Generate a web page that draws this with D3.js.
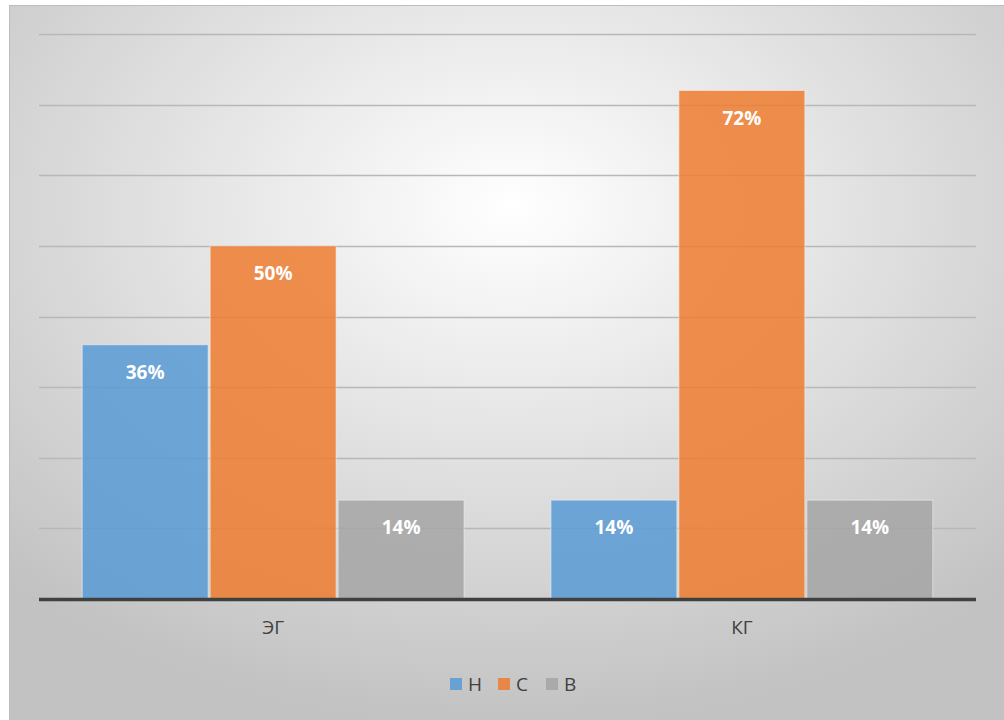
<!DOCTYPE html>
<html>
<head>
<meta charset="utf-8">
<script src="https://cdn.jsdelivr.net/npm/d3@7"></script>
<style>
  body { margin: 0; background: #fff; }
  svg { display: block; font-family: "Open Sans", "Liberation Sans", sans-serif; }
</style>
</head>
<body>
<svg></svg>
<script>
const WIDTH = 1004;
const HEIGHT = 720;

const categories = ["ЭГ", "КГ"];
const seriesNames = ["Н", "С", "В"];
const seriesColors = ["#5b9bd5", "#ed7d31", "#a5a5a5"];
const valuesH = [36, 14];
const valuesC = [50, 72];
const valuesB = [14, 14];
const yTicks = [0, 10, 20, 30, 40, 50, 60, 70, 80];

const series = [valuesH, valuesC, valuesB];

const plot = { left: 39, right: 976, top: 34, bottom: 599 };

const $svg = d3.select("svg").attr("width", WIDTH).attr("height", HEIGHT);

// radial background
const defs = $svg.append("defs");
const grad = defs.append("radialGradient")
  .attr("id", "bg")
  .attr("cx", "50%").attr("cy", "28%").attr("r", "72%");
grad.append("stop").attr("offset", "0%").attr("stop-color", "#ffffff");
grad.append("stop").attr("offset", "100%").attr("stop-color", "#c2c2c2");

$svg.append("rect")
  .attr("x", 9.5).attr("y", 5.5)
  .attr("width", WIDTH).attr("height", HEIGHT)
  .attr("fill", "url(#bg)")
  .attr("stroke", "#bdbdbd")
  .attr("stroke-width", 1);

const x0 = d3.scaleBand()
  .domain(categories)
  .range([plot.left, plot.right])
  .paddingInner(0.181)
  .paddingOuter(0.09);

const x1 = d3.scaleBand()
  .domain(seriesNames)
  .range([0, x0.bandwidth()])
  .padding(0.0);

const y = d3.scaleLinear()
  .domain([0, 80])
  .range([plot.bottom, plot.top]);

// gridlines
$svg.append("g")
  .selectAll("line")
  .data(yTicks.slice(1))
  .join("line")
  .attr("x1", plot.left).attr("x2", plot.right)
  .attr("y1", d => Math.round(y(d)) + 0.5)
  .attr("y2", d => Math.round(y(d)) + 0.5)
  .attr("stroke", "#b8b8b8")
  .attr("stroke-width", 1.5);

// bars
const groups = $svg.append("g")
  .selectAll("g")
  .data(categories)
  .join("g")
  .attr("transform", c => `translate(${x0(c)},0)`);

groups.selectAll("rect")
  .data((c, ci) => seriesNames.map((s, si) => ({ s, si, v: series[si][ci] })))
  .join("rect")
  .attr("x", d => x1(d.s) + 1)
  .attr("width", x1.bandwidth() - 2)
  .attr("y", d => y(d.v))
  .attr("height", d => y(0) - y(d.v))
  .attr("fill", d => seriesColors[d.si])
  .attr("fill-opacity", 0.86)
  .attr("stroke", "#f2f2f2")
  .attr("stroke-opacity", 0.6)
  .attr("stroke-width", 1);

groups.selectAll("text")
  .data((c, ci) => seriesNames.map((s, si) => ({ s, si, v: series[si][ci] })))
  .join("text")
  .attr("x", d => x1(d.s) + x1.bandwidth() / 2)
  .attr("y", d => y(d.v) + 34)
  .attr("text-anchor", "middle")
  .attr("fill", "#ffffff")
  .attr("font-weight", "bold")
  .attr("font-size", 19)
  .text(d => d.v + "%");

// x axis
const xAxis = d3.axisBottom(x0).tickSize(0).tickPadding(22);
const gx = $svg.append("g")
  .attr("transform", `translate(0,${plot.bottom})`)
  .call(xAxis);
gx.select(".domain").remove();
gx.selectAll("text")
  .attr("font-size", 19)
  .attr("fill", "#404040")
  .attr("font-family", "\"Open Sans\", \"Liberation Sans\", sans-serif");

$svg.append("line")
  .attr("x1", plot.left).attr("x2", plot.right)
  .attr("y1", plot.bottom + 0.5).attr("y2", plot.bottom + 0.5)
  .attr("stroke", "#404040")
  .attr("stroke-width", 3.5);

// legend
const legend = $svg.append("g").attr("transform", "translate(0,684)");
const items = legend.selectAll("g")
  .data(seriesNames)
  .join("g")
  .attr("transform", (d, i) => `translate(${450 + i * 48},0)`);
items.append("rect")
  .attr("x", 0).attr("y", -6)
  .attr("width", 12).attr("height", 12)
  .attr("fill", (d, i) => seriesColors[i])
  .attr("fill-opacity", 0.86);
items.append("text")
  .attr("x", 18).attr("y", 0)
  .attr("dy", "0.35em")
  .attr("font-size", 19)
  .attr("fill", "#404040")
  .text(d => d);
</script>
</body>
</html>
